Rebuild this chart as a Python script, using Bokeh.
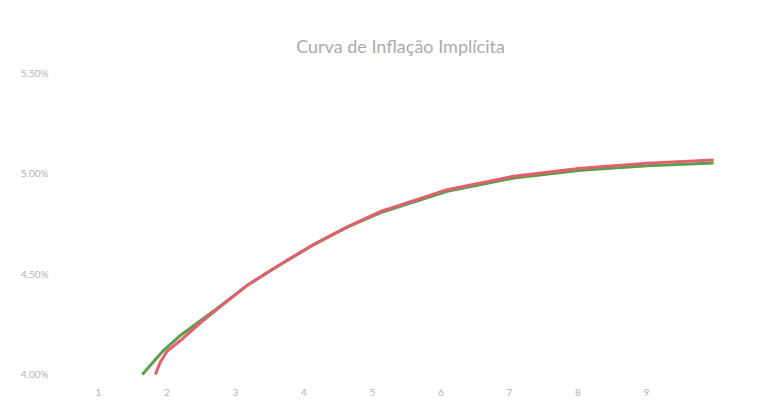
from bokeh.plotting import figure
from bokeh.models import Range1d, FixedTicker, NumeralTickFormatter
from bokeh.embed import file_html
from bokeh.resources import INLINE

# Data (years to maturity, implied inflation in decimal)
green_x = [1.64, 1.95, 2.20, 2.68, 3.18, 3.66, 4.14, 4.64, 5.12, 6.09, 7.06, 8.04, 9.01, 9.98]
green_y = [0.04000, 0.04120, 0.04195, 0.04315, 0.04445, 0.04548, 0.04645, 0.04733, 0.04804, 0.04910, 0.04976, 0.05014, 0.05037, 0.05050]

red_x = [1.83, 1.90, 2.00, 2.20, 2.50, 2.68, 3.18, 3.66, 4.14, 4.64, 5.12, 6.09, 7.06, 8.04, 9.01, 9.98]
red_y = [0.04000, 0.04060, 0.04115, 0.04170, 0.04260, 0.04310, 0.04445, 0.04548, 0.04645, 0.04735, 0.04810, 0.04918, 0.04985, 0.05025, 0.05050, 0.05065]

x_ticks = [1, 2, 3, 4, 5, 6, 7, 8, 9]
y_ticks = [0.040, 0.045, 0.050, 0.055]

title_text = "Curva de Inflação Implícita"

p = figure(width=742, height=398, output_backend="svg", toolbar_location=None,
           x_range=Range1d(0.445, 10.372), y_range=Range1d(0.0398, 0.05535),
           min_border_left=60, min_border_right=2, min_border_top=65, min_border_bottom=20,
           title=title_text)

p.title.align = "center"
p.title.text_font = "Lato"
p.title.text_font_size = "18px"
p.title.text_font_style = "normal"
p.title.text_color = "#ababab"
p.title.offset = -20
p.title.standoff = 17

p.line(green_x, green_y, line_color="#5b9e4c", line_width=3)
p.line(red_x, red_y, line_color="#e2606e", line_width=3)

p.xgrid.visible = False
p.ygrid.visible = False
p.outline_line_color = None

for ax in (p.xaxis[0], p.yaxis[0]):
    ax.axis_line_color = None
    ax.major_tick_line_color = None
    ax.minor_tick_line_color = None
    ax.major_label_text_font = "Lato"
    ax.major_label_text_font_size = "10px"
    ax.major_label_text_color = "#b4b4b4"

p.xaxis[0].ticker = FixedTicker(ticks=x_ticks)
p.xaxis[0].major_label_standoff = 4
p.yaxis[0].ticker = FixedTicker(ticks=y_ticks)
p.yaxis[0].formatter = NumeralTickFormatter(format="0.00%")
p.yaxis[0].major_label_standoff = 6

open("out.html", "w").write(file_html(p, INLINE))
